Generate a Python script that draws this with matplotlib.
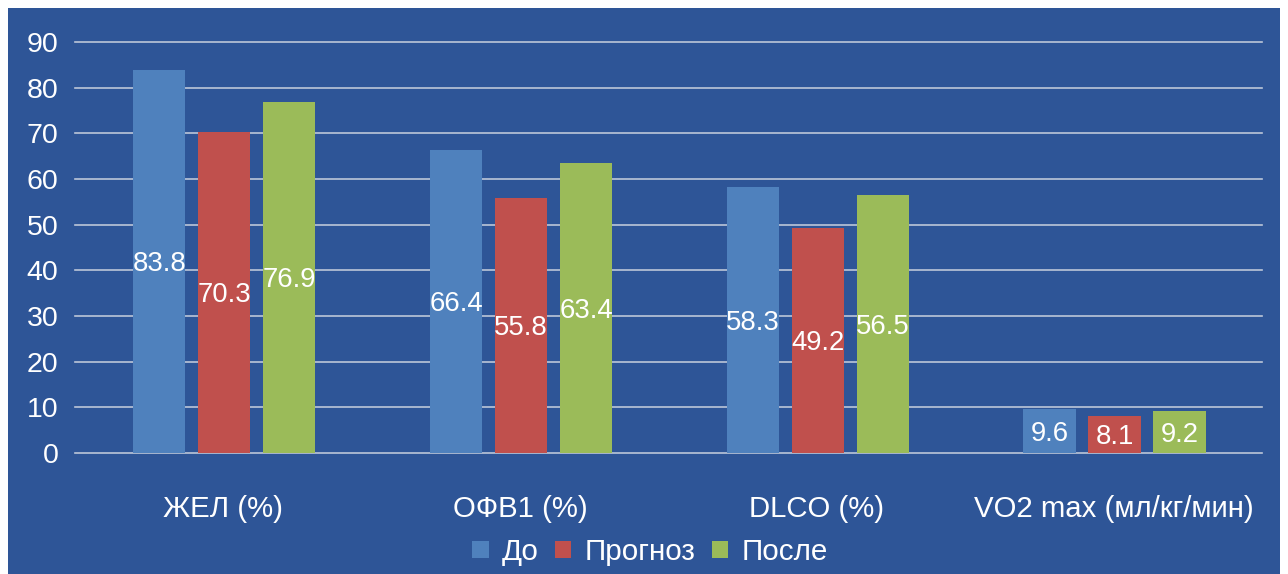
import matplotlib
matplotlib.use("Agg")
import matplotlib.pyplot as plt
from matplotlib.patches import Rectangle, Patch
import numpy as np

plt.rcParams['font.family'] = ['Liberation Sans', 'DejaVu Sans']

categories = ["ЖЕЛ (%)", "ОФВ1 (%)", "DLCO (%)", "VO2 max (мл/кг/мин)"]
series_names = ["До", "Прогноз", "После"]
do_vals = [83.8, 66.4, 58.3, 9.6]
prognoz_vals = [70.3, 55.8, 49.2, 8.1]
posle_vals = [76.9, 63.4, 56.5, 9.2]
yticks = [0, 10, 20, 30, 40, 50, 60, 70, 80, 90]

colors = ["#4F81BD", "#C0504D", "#9BBB59"]
bg = "#2E5597"
grid_c = "#BCC6D9"

W, H = 1288, 574
fig = plt.figure(figsize=(W / 100, H / 100), dpi=100)
fig.patch.set_facecolor("white")
bgrect = Rectangle((8 / W, 0), (1280 - 8) / W, (H - 8) / H,
                   transform=fig.transFigure, facecolor=bg,
                   edgecolor="none", zorder=-10)
fig.add_artist(bgrect)

ax = fig.add_axes([75 / W, (H - 453) / H, (1262 - 75) / W, (453 - 42) / H])
ax.set_zorder(1)
ax.set_facecolor("none")
for s in ax.spines.values():
    s.set_visible(False)

x = np.arange(len(categories))
width = 0.176
pitch = 0.219
for i, (vals, c) in enumerate(zip([do_vals, prognoz_vals, posle_vals], colors)):
    xs = x + (i - 1) * pitch + 0.003
    ax.bar(xs, vals, width=width, color=c, zorder=3)
    for xx, v in zip(xs, vals):
        ax.text(xx, v / 2 - 0.6, f"{v:.1f}", ha="center", va="center",
                color="white", fontsize=19.8, zorder=4)

for t in yticks:
    ax.axhline(t, color=grid_c, linewidth=1.2, zorder=1, clip_on=False)

ax.set_xlim(-0.5, len(categories) - 0.5)
ax.set_ylim(0, 90)
ax.set_yticks(yticks)
ax.set_yticklabels([str(t) for t in yticks])
ax.set_xticks(x)
ax.set_xticklabels(categories)
ax.tick_params(axis="both", length=0, colors="white")
ax.tick_params(axis="y", pad=12, labelsize=20.5)
ax.tick_params(axis="x", pad=30, labelsize=21.2)

handles = [Patch(facecolor=c, edgecolor="none") for c in colors]
leg = fig.legend(handles, series_names, loc="center", bbox_to_anchor=(650 / W, (H - 552) / H),
                 ncol=3, frameon=False, fontsize=21.3, labelcolor="white",
                 handlelength=0.55, handleheight=0.55, handletextpad=0.45,
                 columnspacing=0.55)
leg.set_zorder(2)

fig.savefig("out.png", dpi=100, facecolor=fig.get_facecolor())
